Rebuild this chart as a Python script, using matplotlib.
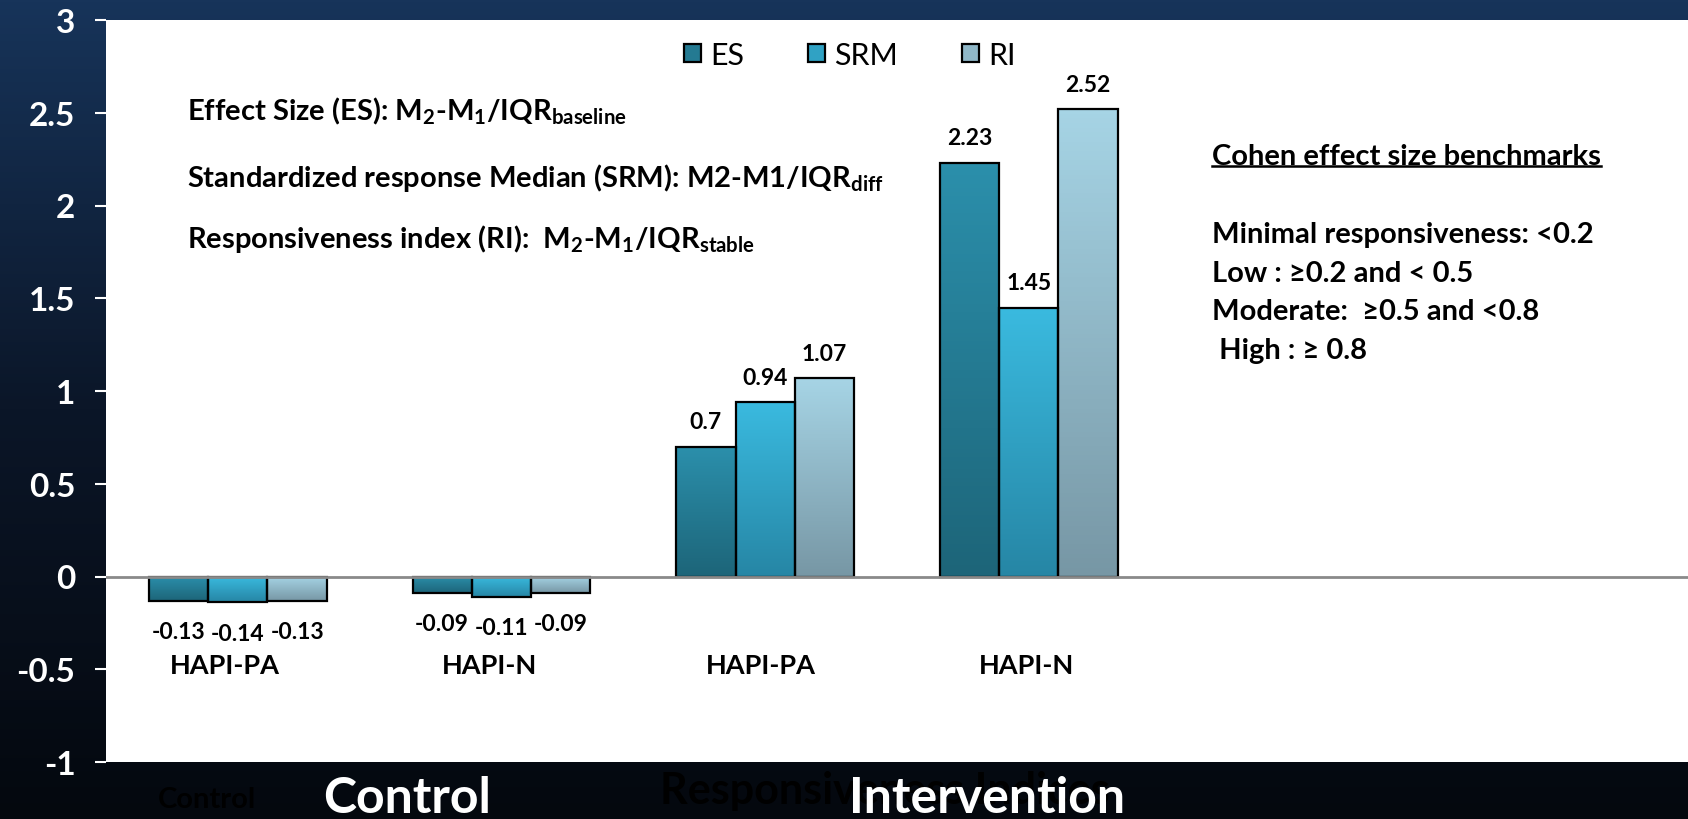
import numpy as np
import matplotlib
matplotlib.use("Agg")
import matplotlib.pyplot as plt
from matplotlib.patches import Patch
from matplotlib.lines import Line2D
from matplotlib.colors import LinearSegmentedColormap

plt.rcParams['font.family'] = ['Lato', 'DejaVu Sans']
plt.rcParams['mathtext.fontset'] = 'custom'
plt.rcParams['mathtext.default'] = 'regular'

# data
groups = ['HAPI-PA', 'HAPI-N', 'HAPI-PA', 'HAPI-N']
arms = ['Control', 'Intervention']
series = ['ES', 'SRM', 'RI']
es = [-0.13, -0.09, 0.70, 2.23]
srm = [-0.14, -0.11, 0.94, 1.45]
ri = [-0.13, -0.09, 1.07, 2.52]
values = [es, srm, ri]
yticks = [-1, -0.5, 0, 0.5, 1, 1.5, 2, 2.5, 3]

formulas = [
    r"Effect Size (ES): $M_2$-$M_1$/$IQR_{baseline}$",
    r"Standardized response Median (SRM): M2-M1/$IQR_{diff}$",
    r"Responsiveness index (RI):  $M_2$-$M_1$/$IQR_{stable}$",
]
bench_title = "Cohen effect size benchmarks"
bench_lines = ["Minimal responsiveness: <0.2",
               "Low : \u22650.2 and < 0.5",
               "Moderate:  \u22650.5 and <0.8",
               " High : \u2265 0.8"]

# (top, bottom) gradient colours for each series
grad = [('#2b8fab', '#1d6579'), ('#3abadf', '#2686a5'), ('#a6d4e5', '#7797a5')]
mid = ['#247a92', '#30a2c4', '#90b8c8']

W, H = 1688, 820
fig = plt.figure(figsize=(W / 100, H / 100), dpi=100)

# dark blue background gradient
bg = fig.add_axes([0, 0, 1, 1], zorder=-5)
bg_cmap = LinearSegmentedColormap.from_list('bg', ['#04080e', '#0b1628', '#17345a'])
bg.imshow(np.linspace(0, 1, 256).reshape(-1, 1), cmap=bg_cmap, aspect='auto',
          origin='lower', extent=[0, 1, 0, 1])
bg.axis('off')

ax = fig.add_axes([106 / W, 57 / H, 1 - 106 / W, 742 / H])
ax.set_facecolor('white')
x = np.arange(len(groups))
width = 0.225

for i, name in enumerate(series):
    offs = (i - 1) * width
    bars = ax.bar(x + offs, values[i], width, facecolor='none',
                  edgecolor='black', linewidth=1.6, zorder=3)
    cmap = LinearSegmentedColormap.from_list(name, [grad[i][1], grad[i][0]])
    for b, v in zip(bars, values[i]):
        x0 = b.get_x()
        im = ax.imshow(np.linspace(0, 1, 100).reshape(-1, 1), cmap=cmap,
                       aspect='auto', origin='lower', zorder=2,
                       extent=[x0, x0 + b.get_width(), min(0, v), max(0, v)])
        im.set_clip_path(b)
        off = 18 if v >= 0 else -22
        ax.annotate(f"{v:g}", (b.get_x() + b.get_width() / 2, v),
                    xytext=(0, off), textcoords='offset points',
                    ha='center', va='center', fontsize=16.5, fontweight='bold',
                    zorder=5)

ax.axhline(0, color='#8a8a8a', linewidth=2, zorder=4)
ax.set_xlim(-0.5, 5.5)
ax.set_ylim(-1, 3)
ax.set_yticks(yticks)
ax.set_yticklabels([f"{t:g}" for t in yticks])
ax.set_xticks([])
for s in ax.spines.values():
    s.set_visible(False)
ax.tick_params(axis='y', colors='white', length=8, width=1.5, pad=14,
               labelsize=24)
for lab in ax.get_yticklabels():
    lab.set_fontweight('bold')

label_shift = [-0.05, -0.045, -0.015, -0.008]
for xi, g, sh in zip(x, groups, label_shift):
    ax.text(xi + sh, -0.475, g, ha='center', va='center', fontsize=19.5,
            fontweight='bold', zorder=5)

handles = [Patch(facecolor=mid[i], edgecolor='black', linewidth=1.6)
           for i in range(3)]
ax.legend(handles, series, loc='center', bbox_to_anchor=(0.47, 0.953),
          ncol=3, frameon=False, fontsize=22, handlelength=0.55,
          handleheight=0.55, handletextpad=0.3, columnspacing=2.1)

for f, yp in zip(formulas, [111, 178, 239]):
    fig.text(187 / W, 1 - yp / H, f, ha='left', va='center',
             fontsize=21, fontweight='bold')

t = fig.text(1212 / W, 1 - 157 / H, bench_title, ha='left', va='center',
             fontsize=21, fontweight='bold')
for k, line in enumerate(bench_lines):
    fig.text(1212 / W, 1 - (235 + 38.7 * k) / H, line, ha='left',
             va='center', fontsize=21, fontweight='bold')

# hidden dark titles behind the arm names
fig.text(207 / W, 1 - 800 / H, 'Control', ha='center', va='center',
         fontsize=21, fontweight='bold', color='black')
fig.text(885 / W, 1 - 791 / H, 'Responsiveness Indices', ha='center',
         va='center', fontsize=31, fontweight='bold', color='black')
for name, xc in zip(arms, [407, 987]):
    fig.text(xc / W, 1 - 799 / H, name, ha='center', va='center',
             fontsize=36, fontweight='bold', color='white')

fig.canvas.draw()
bb = t.get_window_extent()
uy = (bb.y0 + 3) / H
fig.add_artist(Line2D([bb.x0 / W, bb.x1 / W], [uy, uy], color='black',
                      linewidth=1.8, transform=fig.transFigure))

fig.savefig('out.png', dpi=100)
